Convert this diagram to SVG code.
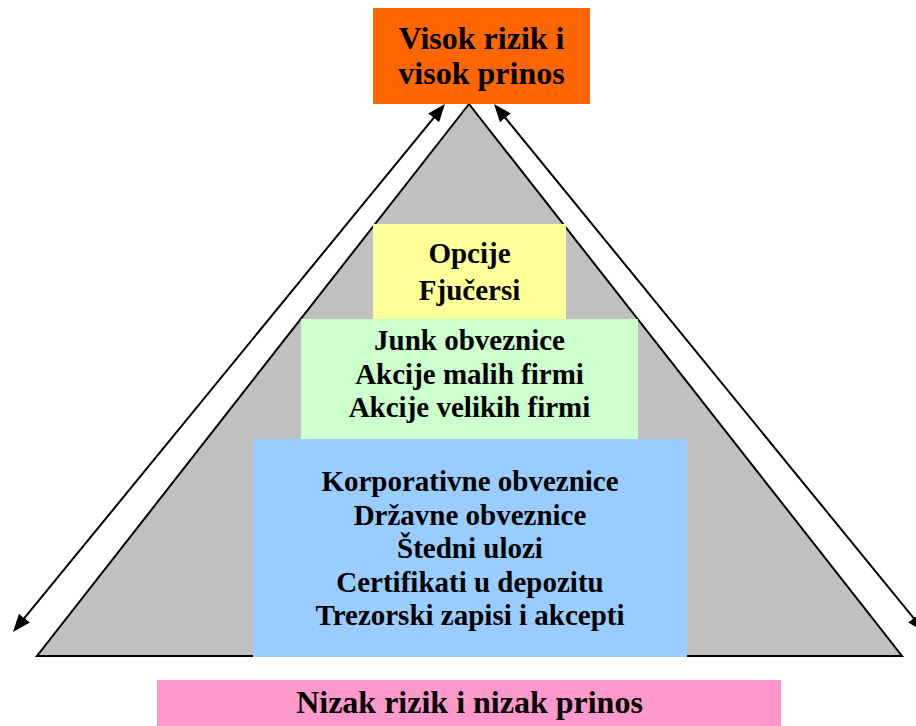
<svg xmlns="http://www.w3.org/2000/svg" width="916" height="726" viewBox="0 0 916 726">
  <style>
    .lbl { font-family: "Liberation Serif", "Times New Roman", "DejaVu Serif", serif; font-weight: bold; fill: #000; text-anchor: middle; }
    .big { font-size: 32px; }
    .mid { font-size: 29px; }
    .axis { stroke: #000; stroke-width: 2; fill: none; }
  </style>
  <defs>
    <marker id="arrowhead" markerUnits="userSpaceOnUse" markerWidth="20" markerHeight="14" refX="15" refY="7" orient="auto-start-reverse">
      <path d="M0,0 L18,7 L0,14 z" fill="#000"/>
    </marker>
  </defs>

  <!-- pyramid body -->
  <g id="pyramid">
    <polygon points="469,104 37,656 902,656" fill="#c0c0c0" stroke="#000" stroke-width="2" stroke-linejoin="miter"/>
  </g>

  <!-- risk / return axes along both sides -->
  <g id="connectors">
    <line class="axis" x1="14.9" y1="629.7" x2="443.1" y2="106.3" marker-start="url(#arrowhead)" marker-end="url(#arrowhead)"/>
    <line class="axis" x1="495.9" y1="106.3" x2="923.1" y2="629.7" marker-start="url(#arrowhead)" marker-end="url(#arrowhead)"/>
  </g>

  <g id="high-risk">
    <rect x="373" y="8" width="217" height="96" fill="#ff6600"/>
    <text class="lbl big" x="481.5" y="49">Visok rizik i</text>
    <text class="lbl big" x="481.5" y="84">visok prinos</text>
  </g>

  <g id="tier-derivatives">
    <rect x="373" y="224" width="193" height="95" fill="#ffff99"/>
    <text class="lbl mid" x="469.5" y="263">Opcije</text>
    <text class="lbl mid" x="469.5" y="300">Fjučersi</text>
  </g>

  <g id="tier-stocks">
    <rect x="301" y="319" width="337" height="120" fill="#ccffcc"/>
    <text class="lbl mid" x="469.5" y="350">Junk obveznice</text>
    <text class="lbl mid" x="469.5" y="384">Akcije malih firmi</text>
    <text class="lbl mid" x="469.5" y="417">Akcije velikih firmi</text>
  </g>

  <g id="tier-safe">
    <rect x="253" y="439" width="434" height="218" fill="#99ccff"/>
    <text class="lbl mid" x="470" y="491">Korporativne obveznice</text>
    <text class="lbl mid" x="470" y="525">Državne obveznice</text>
    <text class="lbl mid" x="470" y="558">Štedni ulozi</text>
    <text class="lbl mid" x="470" y="592">Certifikati u depozitu</text>
    <text class="lbl mid" x="470" y="625">Trezorski zapisi i akcepti</text>
  </g>

  <g id="low-risk">
    <rect x="157" y="680" width="624" height="46" fill="#ff99cc"/>
    <text class="lbl big" x="469.5" y="713">Nizak rizik i nizak prinos</text>
  </g>
</svg>
